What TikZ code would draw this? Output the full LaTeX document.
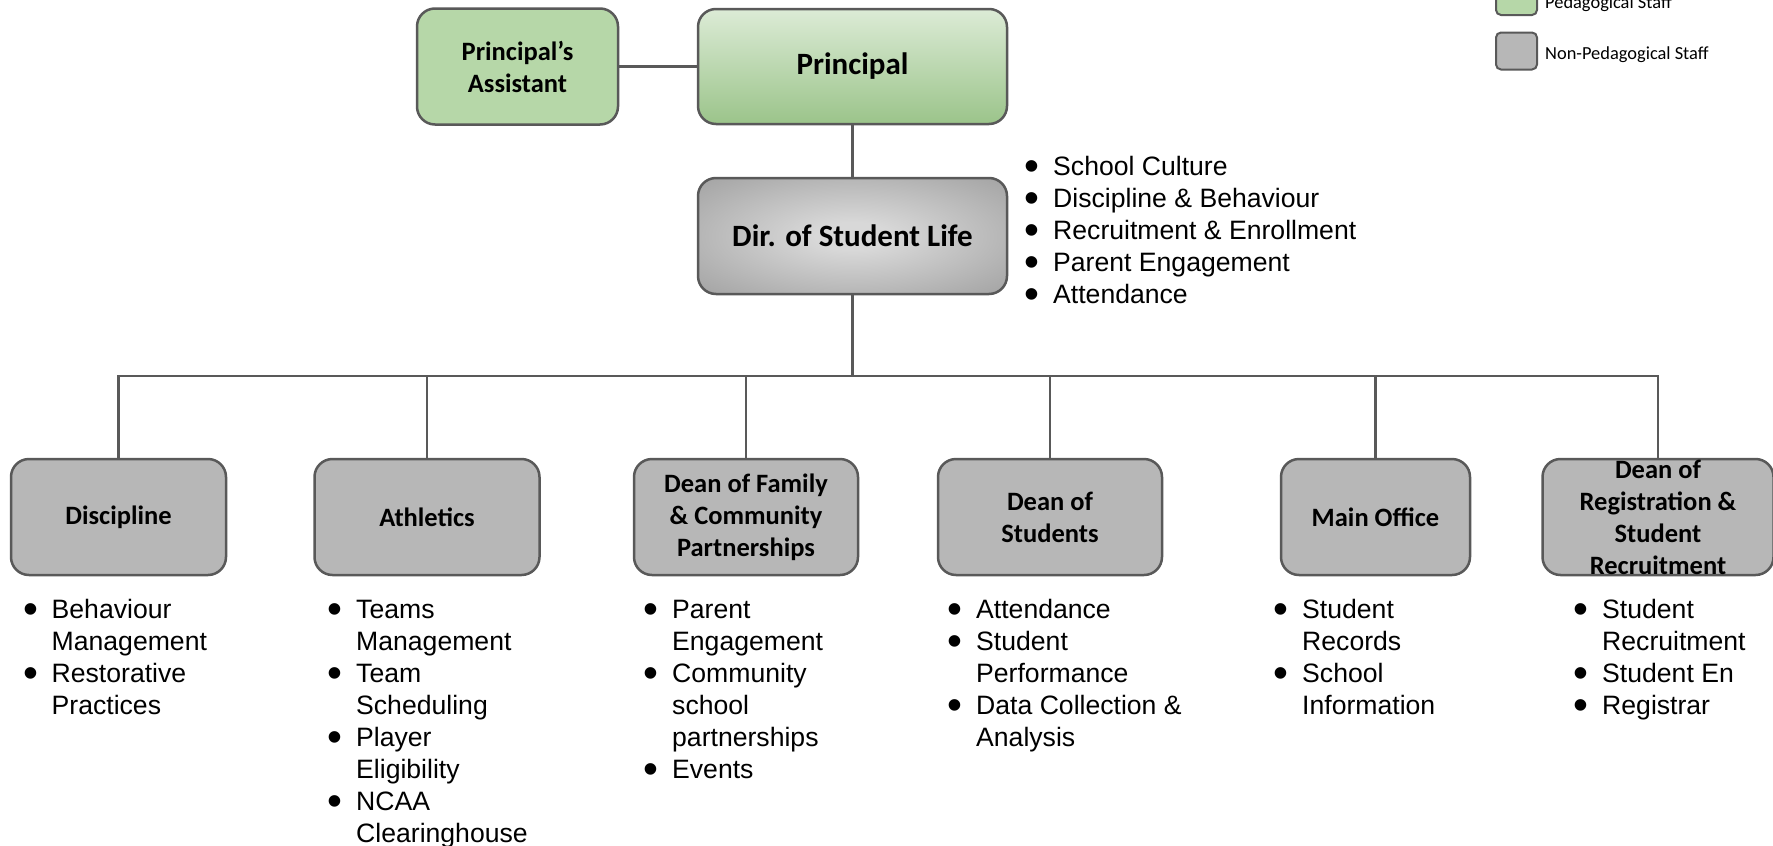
\documentclass[tikz,border=0pt]{standalone}
\usepackage{fontspec}
\newfontfamily\boxfont{Carlito}
\newfontfamily\listfont{Liberation Sans}
\definecolor{boxline}{HTML}{595959}
\definecolor{pedgreen}{HTML}{B6D7A8}
\definecolor{pedlight}{HTML}{DCEBD6}
\definecolor{peddark}{HTML}{9BC48A}
\definecolor{dirlight}{HTML}{D8D8D8}
\definecolor{dirmid}{HTML}{B0B0B0}
\definecolor{dirdark}{HTML}{8A8A8A}
\definecolor{nonped}{HTML}{B7B7B7}
\pgfdeclareradialshading{dirshade}{\pgfpoint{0bp}{0bp}}{color(0bp)=(dirlight); color(6bp)=(dirlight);
	color(28bp)=(dirmid); color(50bp)=(dirdark)}
\newcommand{\bul}{\makebox[0pt]{\raisebox{-0.2em}[0pt][0pt]{\scalebox{1.6}{\textbullet}}}\hspace*{21pt}}
\newcommand{\cont}{\hspace*{21pt}}
\newcommand{\blist}[1]{\begin{tabular}[t]{@{}l@{}}#1\end{tabular}}
\tikzset{
  staffbox/.style={draw=boxline, line width=2.5pt, rounded corners=18pt, align=center, inner sep=0pt,
    minimum height=116pt, font=\boxfont\bfseries\fontsize{26.5}{32}\selectfont},
  nonpedbox/.style={staffbox, fill=nonped},
  topbox/.style={staffbox, font=\boxfont\bfseries\fontsize{31}{37}\selectfont, minimum width=309pt},
  regtext/.style={align=center, inner sep=0pt, font=\boxfont\bfseries\fontsize{26.5}{32}\selectfont},
  conn/.style={draw=boxline, line width=2.5pt},
  bullets/.style={anchor=base west, inner sep=0pt, font=\listfont\fontsize{26.6}{32}\selectfont},
  keybox/.style={draw=boxline, line width=2pt, rounded corners=5pt, minimum width=41pt, minimum height=37pt, inner sep=0pt},
  keytext/.style={anchor=base west, inner sep=0pt, font=\boxfont\fontsize{18.4}{22}\selectfont}
}
\begin{document}
\begin{tikzpicture}[x=1pt,y=-1pt]
	\path[use as bounding box, fill=white] (0,0) rectangle (1773,846);
	
	%Top of the chart
	\node[staffbox, fill=pedgreen, minimum width=201pt] (asst) at (517.5,66.5) {Principal’s\\Assistant};
	\node[topbox, top color=pedlight, bottom color=peddark, minimum height=115pt] (principal) at (852.5,66.5) {Principal};
	\node[topbox, shading=dirshade] (dirlife) at (852.5,236) {Dir. of Student Life};
	\node[bullets] (dirlist) at (1032,175) {\blist{\bul School Culture\\ \bul Discipline \& Behaviour\\
		\bul Recruitment \& Enrollment\\ \bul Parent Engagement\\ \bul Attendance}};
	
	%Legend
	\node[keybox, fill=pedgreen] (pedkey) at (1516.5,-3.5) {};
	\node[keytext] (pedtxt) at (1545,8) {Pedagogical Staff};
	\node[keybox, fill=nonped] (nonpedkey) at (1516.5,51) {};
	\node[keytext] (nonpedtxt) at (1545,59) {Non-Pedagogical Staff};
	
	%Second row
	\node[nonpedbox, minimum width=215pt] (discipline) at (118.5,517) {Discipline};
	\node[nonpedbox, minimum width=225pt] (athletics) at (427,517) {Athletics};
	\node[nonpedbox, minimum width=224pt] (deanfam) at (746,517) {Dean of Family\\\& Community\\Partnerships};
	\node[nonpedbox, minimum width=224pt] (deanstu) at (1050,517) {Dean of\\Students};
	\node[nonpedbox, minimum width=189pt] (mainoff) at (1375.5,517) {Main Office};
	\node[nonpedbox, minimum width=231pt,
		label={[regtext]center:{Dean of\\Registration \&\\Student\\Recruitment}}] (deanreg) at (1658,517) {};
	
	%Duties
	\node[bullets] (disclist) at (30.5,618) {\blist{\bul Behaviour\\ \cont Management\\ \bul Restorative\\ \cont Practices}};
	\node[bullets] (athlist) at (335,618) {\blist{\bul Teams\\ \cont Management\\ \bul Team\\ \cont Scheduling\\
		\bul Player\\ \cont Eligibility\\ \bul NCAA\\ \cont Clearinghouse}};
	\node[bullets] (famlist) at (651,618) {\blist{\bul Parent\\ \cont Engagement\\ \bul Community\\ \cont school\\
		\cont partnerships\\ \bul Events}};
	\node[bullets] (stulist) at (955,618) {\blist{\bul Attendance\\ \bul Student\\ \cont Performance\\
		\bul Data Collection \&\\ \cont Analysis}};
	\node[bullets] (offlist) at (1281,618) {\blist{\bul Student\\ \cont Records\\ \bul School\\ \cont Information}};
	\node[bullets] (reglist) at (1581,618) {\blist{\bul Student\\ \cont Recruitment\\ \bul Student En\\ \bul Registrar}};
	
	%Connectors
	\coordinate (bus) at (852.5,376);
	\draw[conn] (asst) -- (principal);
	\draw[conn] (principal) -- (dirlife);
	\draw[conn] (dirlife) -- (bus);
	\foreach \c in {discipline,athletics,deanfam,deanstu,mainoff,deanreg}
		\draw[conn] (bus) -| (\c.north);
	
\end{tikzpicture}
\end{document}
